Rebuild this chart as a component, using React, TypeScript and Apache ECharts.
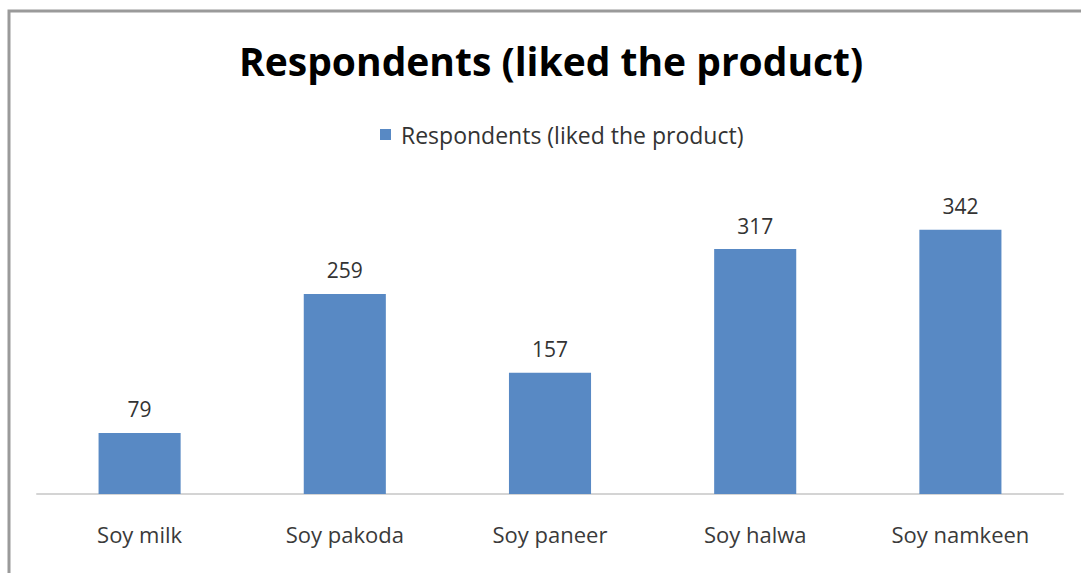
import React, { useEffect, useRef } from "react";
import * as echarts from "echarts";

const categories = ["Soy milk", "Soy pakoda", "Soy paneer", "Soy halwa", "Soy namkeen"];
const values = [79, 259, 157, 317, 342];
const seriesName = "Respondents (liked the product)";
const titleText = "Respondents (liked the product)";

export default function App() {
  const ref = useRef<HTMLDivElement>(null);
  useEffect(() => {
    document.body.style.margin = "0";
    const chart = echarts.init(ref.current!, null, { renderer: "svg" });
    chart.setOption({
      animation: false,
      backgroundColor: "#ffffff",
      title: {
        text: titleText,
        left: 234,
        top: 36,
        textStyle: { fontFamily: "Open Sans", fontWeight: "bold", fontSize: 39, color: "#000000" },
      },
      legend: {
        top: 118,
        left: 375,
        itemWidth: 11,
        itemHeight: 11,
        itemGap: 10,
        icon: "rect",
        textStyle: { fontFamily: "Open Sans", fontSize: 23, color: "#333333", padding: [0, 0, 0, 5] },
        data: [seriesName],
      },
      graphic: [
        {
          type: "rect",
          shape: { x: 9, y: 11, width: 1200, height: 700 },
          style: { fill: "none", stroke: "#9a9a9a", lineWidth: 3 },
          silent: true,
        },
      ],
      grid: { left: 37, right: 18, top: 185, bottom: 79 },
      xAxis: {
        type: "category",
        data: categories,
        axisLine: { lineStyle: { color: "#d4d4d4", width: 2 } },
        axisTick: { show: false },
        axisLabel: { margin: 29, fontFamily: "Open Sans", fontSize: 22, color: "#3a3a3a" },
      },
      yAxis: {
        type: "value",
        min: 0,
        max: 400,
        show: false,
        splitLine: { show: false },
      },
      series: [
        {
          name: seriesName,
          type: "bar",
          data: values,
          barWidth: "40%",
          itemStyle: { color: "#5889c4" },
          label: {
            show: true,
            position: "top",
            distance: 13,
            fontFamily: "Open Sans",
            fontSize: 21,
            color: "#333333",
          },
        },
      ],
    });
    return () => chart.dispose();
  }, []);
  return <div ref={ref} style={{ width: 1081, height: 573 }} />;
}
